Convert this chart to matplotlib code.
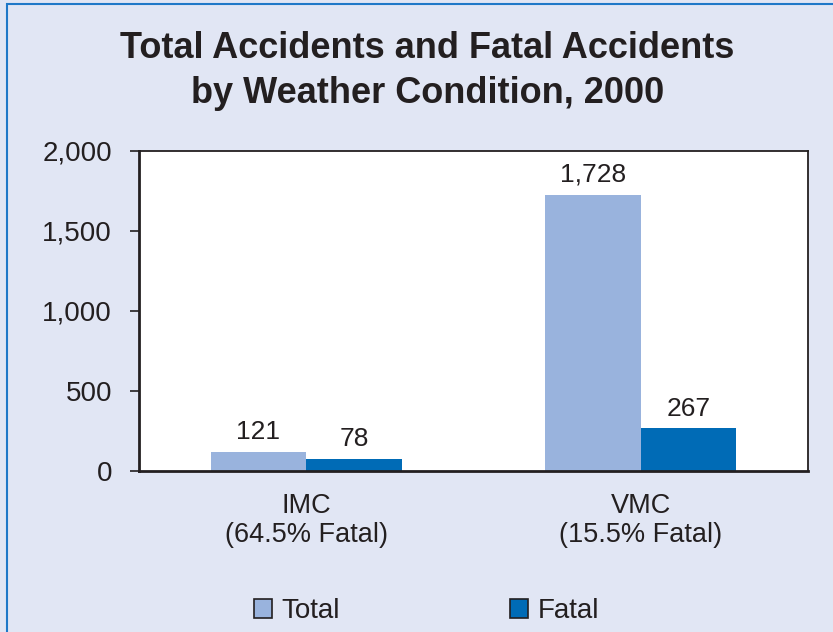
import matplotlib
matplotlib.use("Agg")
import matplotlib.pyplot as plt
import numpy as np
from matplotlib.patches import Rectangle

plt.rcParams['font.family'] = ['Liberation Sans', 'DejaVu Sans']

categories = ["IMC\n(64.5% Fatal)", "VMC\n(15.5% Fatal)"]
total = [121, 1728]
fatal = [78, 267]
series_names = ["Total", "Fatal"]
yticks = [0, 500, 1000, 1500, 2000]

bg = "#E1E6F4"
c_total = "#99B3DD"
c_fatal = "#006BB6"
text_c = "#231F20"

fig = plt.figure(figsize=(8.33, 6.32), dpi=100, facecolor=bg)
# blue frame on left and top
fig.add_artist(Rectangle((7/833, -0.1), 1.2, 1.1 - 4/632, transform=fig.transFigure,
                         fill=False, edgecolor="#1F78C8", linewidth=1.5))

ax = fig.add_axes([139/833, 1 - 471/632, (808-139)/833, (471-151)/632])
ax.set_facecolor("white")
x = np.arange(len(categories))
w = 0.286
b1 = ax.bar(x - w/2, total, w, color=c_total, label=series_names[0])
b2 = ax.bar(x + w/2, fatal, w, color=c_fatal, label=series_names[1])
for bars, vals in ((b1, total), (b2, fatal)):
    for r, v in zip(bars, vals):
        ax.annotate(f"{v:,}", (r.get_x() + r.get_width()/2, v), xytext=(0, 5.5),
                    textcoords="offset points", ha="center", va="bottom",
                    fontsize=19, color=text_c)

ax.set_xlim(-0.5, 1.5)
ax.set_ylim(0, 2000)
ax.set_yticks(yticks)
ax.set_yticklabels([f"{t:,}" for t in yticks])
ax.set_xticks(x)
ax.set_xticklabels(categories, linespacing=1.15)
ax.tick_params(axis='x', length=0, pad=16, labelsize=19.5, colors=text_c)
ax.tick_params(axis='y', length=6.5, width=1.2, pad=13, labelsize=20, colors=text_c, direction='out')
for s in ax.spines.values():
    s.set_color("#231F20")
    s.set_linewidth(1.3)
ax.spines['left'].set_linewidth(2)
ax.spines['bottom'].set_linewidth(2)

fig.suptitle("Total Accidents and Fatal Accidents\nby Weather Condition, 2000",
             x=0.513, y=1 - 31/632, va="top", fontsize=26, fontweight="bold",
             color=text_c, linespacing=1.37)

handles = [Rectangle((0, 0), 1, 1, facecolor=c_total, edgecolor=text_c, linewidth=1.2),
           Rectangle((0, 0), 1, 1, facecolor=c_fatal, edgecolor=text_c, linewidth=1.2)]
fig.legend(handles, series_names, loc="center", bbox_to_anchor=(0.512, 1 - 611/632),
           ncol=2, frameon=False, fontsize=20, handlelength=0.65, handleheight=0.65,
           handletextpad=0.33, columnspacing=6.15, labelcolor=text_c)

fig.savefig("out.png", dpi=100, facecolor=bg)
